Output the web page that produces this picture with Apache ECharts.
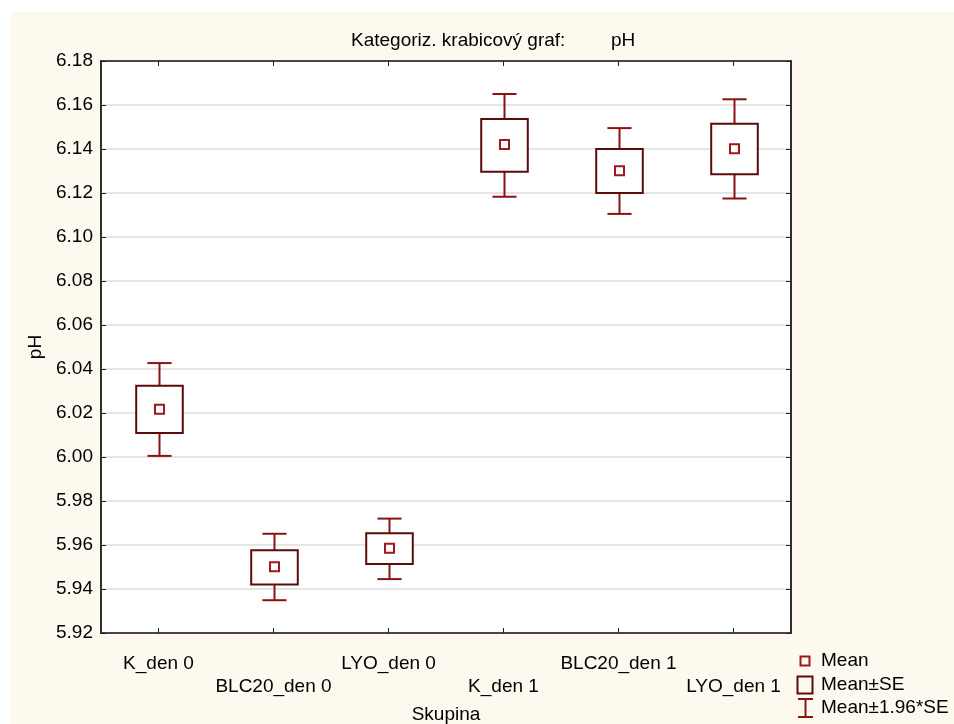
<!DOCTYPE html>
<html>
<head>
<meta charset="utf-8">
<script src="https://cdn.jsdelivr.net/npm/echarts@6/dist/echarts.min.js"></script>
<style>html,body{margin:0;padding:0;background:#fff;}#c{width:954px;height:724px;}</style>
</head>
<body>
<div id="c"></div>
<script>
var categories = ['K_den 0', 'BLC20_den 0', 'LYO_den 0', 'K_den 1', 'BLC20_den 1', 'LYO_den 1'];
var means  = [6.0217, 5.9501, 5.9585, 6.1420, 6.1301, 6.1401];
var seLow  = [6.0109, 5.9421, 5.9514, 6.1297, 6.1200, 6.1285];
var seHigh = [6.0324, 5.9576, 5.9653, 6.1536, 6.1400, 6.1515];
var ciLow  = [6.0005, 5.9349, 5.9445, 6.1183, 6.1105, 6.1175];
var ciHigh = [6.0427, 5.9651, 5.9720, 6.1650, 6.1495, 6.1626];
var yTicks = [5.92, 6.18, 0.02];

var FONT = 'Liberation Sans, Arial, sans-serif';
var FS = 19;
var WHISK = '#8c1212';
var BOXC = '#5a0c0c';
var MEANC = '#a01818';

var data = categories.map(function (c, i) {
  return [i, means[i], seLow[i], seHigh[i], ciLow[i], ciHigh[i]];
});

function renderItem(params, api) {
  var i = api.value(0);
  var band = api.size([1, 0])[0];
  var pm = api.coord([i, api.value(1)]);
  var pSL = api.coord([i, api.value(2)]);
  var pSH = api.coord([i, api.value(3)]);
  var pCL = api.coord([i, api.value(4)]);
  var pCH = api.coord([i, api.value(5)]);
  var x = Math.round(pm[0]) + 0.5;
  var bw = band * 0.405;
  var cw = band * 0.21;
  var ms = 9;
  var ls = { stroke: WHISK, lineWidth: 2 };
  return {
    type: 'group',
    children: [
      { type: 'line', shape: { x1: x, y1: pCH[1], x2: x, y2: pSH[1] }, style: ls },
      { type: 'line', shape: { x1: x, y1: pSL[1], x2: x, y2: pCL[1] }, style: ls },
      { type: 'line', shape: { x1: x - cw / 2, y1: pCH[1], x2: x + cw / 2, y2: pCH[1] }, style: ls },
      { type: 'line', shape: { x1: x - cw / 2, y1: pCL[1], x2: x + cw / 2, y2: pCL[1] }, style: ls },
      { type: 'rect', shape: { x: x - bw / 2, y: pSH[1], width: bw, height: pSL[1] - pSH[1] },
        style: { fill: '#fff', stroke: BOXC, lineWidth: 2 } },
      { type: 'rect', shape: { x: x - ms / 2, y: pm[1] - ms / 2, width: ms, height: ms },
        style: { fill: 'none', stroke: MEANC, lineWidth: 2 } }
    ]
  };
}

var chart = echarts.init(document.getElementById('c'), null, { renderer: 'canvas' });
var txt = { fontFamily: FONT, fontSize: FS, color: '#000' };
chart.setOption({
  animation: false,
  backgroundColor: '#fff',
  title: [
    { text: 'Kategoriz. krabicový graf:', left: 346, top: 26, textStyle: { fontFamily: FONT, fontSize: FS, fontWeight: 'normal', color: '#000' } },
    { text: 'pH', left: 606, top: 26, textStyle: { fontFamily: FONT, fontSize: FS, fontWeight: 'normal', color: '#000' } }
  ],
  graphic: [
    { type: 'rect', z: -10, silent: true, shape: { x: 10, y: 12, width: 944, height: 712 }, style: { fill: '#fef9ee' } },
    { type: 'rect', shape: { x: 800.5, y: 656.5, width: 9, height: 9 }, style: { fill: 'none', stroke: MEANC, lineWidth: 2 } },
    { type: 'text', style: { x: 821, y: 661, text: 'Mean', font: FS + 'px ' + FONT, fill: '#000', textVerticalAlign: 'middle' } },
    { type: 'rect', shape: { x: 797.5, y: 676.5, width: 15, height: 17 }, style: { fill: 'none', stroke: BOXC, lineWidth: 2 } },
    { type: 'text', style: { x: 821, y: 685, text: 'Mean±SE', font: FS + 'px ' + FONT, fill: '#000', textVerticalAlign: 'middle' } },
    { type: 'line', shape: { x1: 805.5, y1: 699, x2: 805.5, y2: 717 }, style: { stroke: WHISK, lineWidth: 2 } },
    { type: 'line', shape: { x1: 798, y1: 699, x2: 813, y2: 699 }, style: { stroke: WHISK, lineWidth: 2 } },
    { type: 'line', shape: { x1: 798, y1: 717, x2: 813, y2: 717 }, style: { stroke: WHISK, lineWidth: 2 } },
    { type: 'text', style: { x: 821, y: 708, text: 'Mean±1.96*SE', font: FS + 'px ' + FONT, fill: '#000', textVerticalAlign: 'middle' } }
  ],
  grid: { left: 101, right: 163, top: 61, bottom: 91, outerBoundsMode: 'none', containLabel: false,
    show: true, backgroundColor: '#fff', borderColor: '#222', borderWidth: 1.5 },
  xAxis: [
    {
      type: 'category', data: categories, position: 'bottom',
      name: 'Skupina', nameLocation: 'middle', nameGap: 72,
      nameTextStyle: txt,
      axisLine: { show: true, lineStyle: { color: '#222', width: 1.5 } },
      axisTick: { show: true, inside: true, alignWithLabel: true, length: 5, lineStyle: { color: '#222' } },
      axisLabel: { interval: 0, margin: 19, fontFamily: FONT, fontSize: FS, color: '#000', lineHeight: 23,
        formatter: function (v, i) { return i % 2 ? '\n' + v : v; } },
      splitLine: { show: false }
    },
    {
      type: 'category', data: categories, position: 'top',
      axisLine: { show: true, lineStyle: { color: '#222', width: 1.5 } },
      axisTick: { show: true, inside: true, alignWithLabel: true, length: 5, lineStyle: { color: '#222' } },
      axisLabel: { show: false }, splitLine: { show: false }
    }
  ],
  yAxis: [
    {
      type: 'value', min: yTicks[0], max: yTicks[1], interval: yTicks[2], position: 'left',
      name: 'pH', nameLocation: 'middle', nameGap: 56, nameRotate: 90,
      nameTextStyle: txt,
      axisLine: { show: true, lineStyle: { color: '#222', width: 1.5 } },
      axisTick: { show: true, inside: true, length: 5, lineStyle: { color: '#222' } },
      axisLabel: { margin: 8, fontFamily: FONT, fontSize: FS, color: '#000', formatter: function (v) { return v.toFixed(2); } },
      splitLine: { show: true, lineStyle: { color: '#dcdcdc', width: 1.5 } }
    },
    {
      type: 'value', min: yTicks[0], max: yTicks[1], interval: yTicks[2], position: 'right',
      axisLine: { show: true, lineStyle: { color: '#222', width: 1.5 } },
      axisTick: { show: true, inside: true, length: 5, lineStyle: { color: '#222' } },
      axisLabel: { show: false }, splitLine: { show: false }
    }
  ],
  series: [{
    type: 'custom', renderItem: renderItem, data: data,
    xAxisIndex: 0, yAxisIndex: 0,
    encode: { x: 0, y: [1, 2, 3, 4, 5] }
  }]
});
</script>
</body>
</html>
